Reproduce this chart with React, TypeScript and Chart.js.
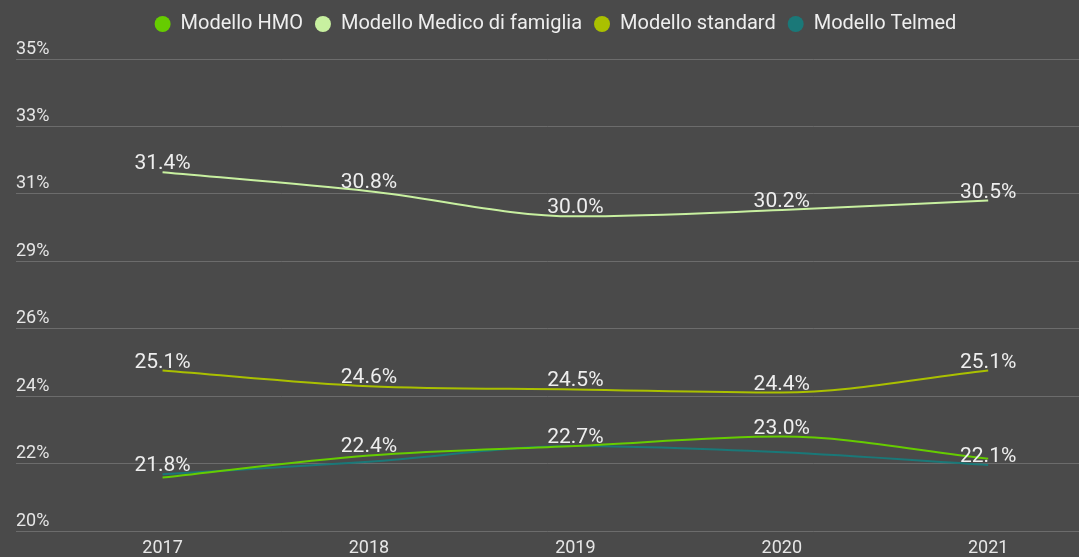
import React, { useEffect, useRef } from 'react';
import { Chart, registerables } from 'chart.js';

Chart.register(...registerables);

// ---- data ----
const years = [2017, 2018, 2019, 2020, 2021];
const seriesNames = ['Modello HMO', 'Modello Medico di famiglia', 'Modello standard', 'Modello Telmed'];
const hmoValues = [21.7, 22.4, 22.7, 23.0, 22.3];
const medicoValues = [31.4, 30.8, 30.0, 30.2, 30.5];
const standardValues = [25.1, 24.6, 24.5, 24.4, 25.1];
const telmedValues = [21.8, 22.2, 22.7, 22.5, 22.1];
// which points carry a value label (others are hidden by overlap in the original)
const hmoLabelShown = [false, true, true, true, false];
const medicoLabelShown = [true, true, true, true, true];
const standardLabelShown = [true, true, true, true, true];
const telmedLabelShown = [true, false, false, false, true];
const yMin = 20;
const yMax = 35;
const yTickCount = 8;
const xMin = 2016.29;
const xMax = 2021.44;

const seriesColors = ['#66cc00', '#c8f0a0', '#aac000', '#1a7878'];
const BG = '#4a4a4a';

const toPoints = (vals: number[]) => vals.map((v, i) => ({ x: years[i], y: v }));

const labelPlugin = {
  id: 'pointValueLabels',
  afterDatasetsDraw(chart: any) {
    const ctx = chart.ctx;
    ctx.save();
    ctx.font = '400 21px Roboto';
    ctx.fillStyle = '#eeeeee';
    ctx.textAlign = 'center';
    ctx.textBaseline = 'alphabetic';
    chart.data.datasets.forEach((ds: any, di: number) => {
      const meta = chart.getDatasetMeta(di);
      meta.data.forEach((pt: any, i: number) => {
        if (!ds.labelShown || !ds.labelShown[i]) return;
        const v = ds.data[i].y as number;
        ctx.fillText(v.toFixed(1) + '%', pt.x, pt.y - 3);
      });
    });
    ctx.restore();
  },
};

// moves the legend block to its place in the original
const legendShiftPlugin = {
  id: 'legendShift',
  afterLayout(chart: any) {
    const lg = chart.legend;
    if (!lg) return;
    lg.top -= 15;
    lg.bottom -= 15;
    lg.left += 8;
    lg.right += 8;
  },
};

export default function App() {
  const ref = useRef<HTMLCanvasElement | null>(null);
  useEffect(() => {
    document.body.style.margin = '0';
    document.body.style.background = BG;
    if (!ref.current) return;
    Chart.defaults.font.family = 'Roboto';
    const mk = (i: number, vals: number[], shown: boolean[]) => ({
      label: seriesNames[i],
      data: toPoints(vals),
      borderColor: seriesColors[i],
      backgroundColor: seriesColors[i],
      borderWidth: 2,
      pointRadius: 0,
      pointHoverRadius: 0,
      cubicInterpolationMode: 'monotone',
      fill: false,
      labelShown: shown,
    });
    const chart = new Chart(ref.current, {
      type: 'line',
      data: {
        datasets: [
          mk(0, hmoValues, hmoLabelShown),
          mk(1, medicoValues, medicoLabelShown),
          mk(2, standardValues, standardLabelShown),
          mk(3, telmedValues, telmedLabelShown),
        ] as any,
      },
      options: {
        animation: false,
        responsive: false,
        devicePixelRatio: 1,
        layout: { padding: { left: 16, right: 0, top: 1, bottom: 0 } },
        plugins: {
          legend: {
            position: 'top',
            align: 'center',
            labels: {
              usePointStyle: true,
              pointStyle: 'circle',
              pointStyleWidth: 16,
              boxHeight: 11.3,
              boxWidth: 16,
              padding: 12,
              color: '#eeeeee',
              font: { size: 20, family: 'Roboto' },
              generateLabels: (c: any) =>
                Chart.defaults.plugins.legend.labels.generateLabels(c).map((l: any) => ({ ...l, lineWidth: 0 })),
            },
          },
          tooltip: { enabled: false },
        },
        scales: {
          x: {
            type: 'linear',
            min: xMin,
            max: xMax,
            grid: { display: false },
            border: { display: false },
            ticks: {
              stepSize: 1,
              includeBounds: false,
              padding: -1,
              color: '#e6e6e6',
              font: { size: 18, family: 'Roboto' },
              callback: (v: any) => (Number.isInteger(v) ? String(v) : ''),
            },
            afterFit: (s: any) => {
              s.height = 26;
            },
          },
          y: {
            min: yMin,
            max: yMax,
            grid: { color: '#6c6c6c', drawTicks: false, lineWidth: 1 },
            border: { display: false },
            ticks: {
              count: yTickCount,
              mirror: true,
              padding: 0,
              labelOffset: -10,
              color: '#e6e6e6',
              font: { size: 18, family: 'Roboto' },
              callback: (v: any) => Math.round(Number(v)) + '%',
            },
            afterFit: (s: any) => {
              s.paddingTop = 59;
            },
          },
        },
      } as any,
      plugins: [labelPlugin, legendShiftPlugin],
    });
    return () => chart.destroy();
  }, []);
  return (
    <div style={{ width: 1079, height: 557, background: BG }}>
      <canvas ref={ref} width={1079} height={557} style={{ display: 'block' }} />
    </div>
  );
}
